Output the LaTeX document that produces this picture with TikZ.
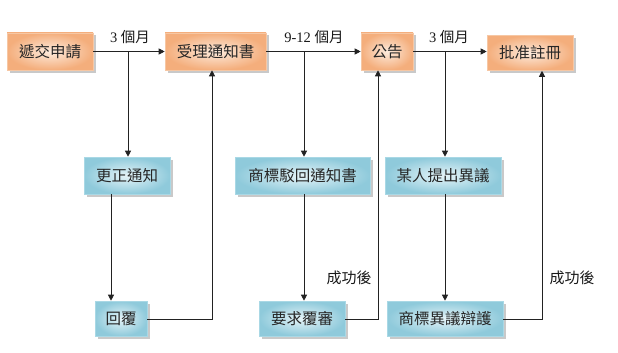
\documentclass[tikz,border=0pt]{standalone}
\usepackage{fontspec}
\setmainfont{Liberation Serif}
\newfontfamily\cjk{Noto Sans CJK TC}
\usetikzlibrary{arrows.meta,shadows,calc}
\definecolor{orin}{HTML}{FDEBDD}
\definecolor{orout}{HTML}{F4AE7C}
\definecolor{orline}{HTML}{F6C7A4}
\definecolor{blin}{HTML}{E6F4F8}
\definecolor{blout}{HTML}{8FCADB}
\definecolor{blline}{HTML}{A9D8E5}
\definecolor{lnc}{HTML}{222222}
\tikzset{
  obox/.style={draw=orline, line width=0.6pt, shading=radial, inner color=orin, outer color=orout,
    minimum height=37pt, inner sep=0pt, text=black!85,
    font=\cjk\fontsize{15.5}{16}\selectfont,
    drop shadow={shadow xshift=2.5pt, shadow yshift=-2.5pt, fill=black!35, opacity=0.6}},
  bbox/.style={draw=blline, line width=0.6pt, shading=radial, inner color=blin, outer color=blout,
    minimum height=37pt, inner sep=0pt, text=black!85,
    font=\cjk\fontsize{15.5}{16}\selectfont,
    drop shadow={shadow xshift=2.5pt, shadow yshift=-2.5pt, fill=black!35, opacity=0.6}},
  arr/.style={draw=lnc, line width=0.8pt, -{Triangle[length=6pt,width=6pt]}},
  ln/.style={draw=lnc, line width=0.8pt},
  lbl/.style={inner sep=0pt, text=black!90, font=\fontsize{14.5}{15}\selectfont}
}
\begin{document}
\begin{tikzpicture}[x=1pt,y=-1pt]
\useasboundingbox[fill=white] (0,0) rectangle (618,353);
% top row
\node[obox, minimum width=86pt] (dijiao) at (50,51.5) {遞交申請};
\node[obox, minimum width=101pt] (shouli) at (215.5,51.5) {受理通知書};
\node[obox, minimum width=52pt] (gonggao) at (387,51.5) {公告};
\node[obox, minimum width=86pt, minimum height=35pt] (pizhun) at (530,53) {批准註冊};
% middle row
\node[bbox, minimum width=86pt] (gengzheng) at (127,175.5) {更正通知};
\node[bbox, minimum width=135pt] (bohui) at (302.5,175.5) {商標駁回通知書};
\node[bbox, minimum width=116pt] (yiyi) at (443,175.5) {某人提出異議};
% bottom row
\node[bbox, minimum width=52pt, minimum height=35pt] (huifu) at (121,318.5) {回覆};
\node[bbox, minimum width=86pt, minimum height=35pt] (fushen) at (302,318.5) {要求覆審};
\node[bbox, minimum width=116pt, minimum height=35pt] (bianhu) at (445,318.5) {商標異議辯護};
% labels
\node[lbl] (l1) at (130,37) {3 {\cjk 個月}};
\node[lbl] (l2) at (314,37) {9-12 {\cjk 個月}};
\node[lbl] (l3) at (449,37) {3 {\cjk 個月}};
\node[lbl, font=\cjk\fontsize{15}{15}\selectfont] (s1) at (349,278) {成功後};
\node[lbl, font=\cjk\fontsize{15}{15}\selectfont] (s2) at (572,278) {成功後};
% coordinates
\coordinate (b1) at (128,52);
\coordinate (b2) at (304,52);
\coordinate (b3) at (445,52);
\coordinate (c1) at (111,0);
\coordinate (c2) at (304,0);
\coordinate (c3) at (445,0);
\coordinate (r1) at (212,319);
\coordinate (r2) at (378,319);
\coordinate (r3) at (542,319);
% horizontal main arrows
\draw[arr] (dijiao.east) -- (dijiao.east -| shouli.west);
\draw[arr] (shouli.east) -- (shouli.east -| gonggao.west);
\draw[arr] (gonggao.east) -- (gonggao.east -| pizhun.west);
% branches down
\draw[arr] (b1) -- (b1 |- gengzheng.north);
\draw[arr] (b2) -- (b2 |- bohui.north);
\draw[arr] (b3) -- (b3 |- yiyi.north);
% middle to bottom
\draw[arr] (c1 |- gengzheng.south) -- (c1 |- huifu.north);
\draw[arr] (c2 |- bohui.south) -- (c2 |- fushen.north);
\draw[arr] (c3 |- yiyi.south) -- (c3 |- bianhu.north);
% returns up
\draw[arr] (huifu.east |- r1) -- (r1) -- (r1 |- shouli.south);
\draw[arr] (fushen.east |- r2) -- (r2) -- (r2 |- gonggao.south);
\draw[arr] (bianhu.east |- r3) -- (r3) -- (r3 |- pizhun.south);
\end{tikzpicture}
\end{document}
